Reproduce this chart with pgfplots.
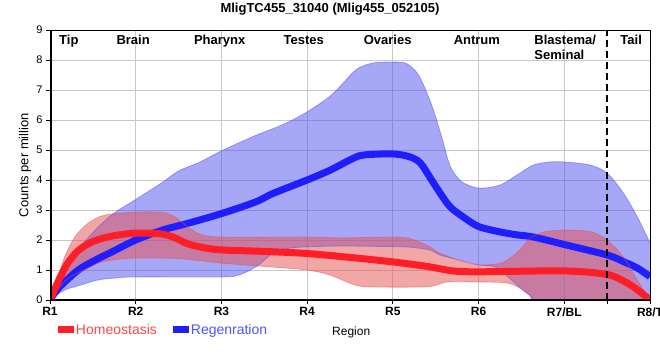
\documentclass[border=0pt]{standalone}
\usepackage{fontspec}
\setmainfont{Liberation Sans}
\usepackage{pgfplots}
\pgfplotsset{compat=1.18}
\usepgfplotslibrary{fillbetween}
\definecolor{bandblue}{RGB}{80,80,240}
\definecolor{bandred}{RGB}{230,80,80}
\definecolor{lineblue}{RGB}{30,30,255}
\definecolor{linered}{RGB}{255,30,40}
\definecolor{txtred}{RGB}{255,70,70}
\definecolor{txtblue}{RGB}{80,80,255}
\definecolor{gridgray}{RGB}{200,200,200}
\begin{document}
\begin{tikzpicture}
\begin{axis}[
 at={(0,0)}, anchor=south west,
 scale only axis, width=600pt, height=270pt,
 xmin=0, xmax=7, ymin=0, ymax=9,
 xtick={0,...,7}, xticklabels={R1,R2,R3,R4,R5,R6,R7/BL,R8/T},
 ytick={0,...,9},
 extra x ticks={6.5}, extra x tick labels={}, extra x tick style={grid=none},
 grid=major, grid style={gridgray, line width=0.9pt},
 tick align=outside, xtick pos=left, ytick pos=left,
 major tick length=4pt, tick style={black, line width=1pt},
 axis line style={black, line width=0.8pt},
 /pgf/number format/assume math mode=true,
 yticklabel style={font=\fontsize{11}{13}\selectfont},
 xticklabel style={font=\bfseries\fontsize{12}{14}\selectfont},
 ylabel={Counts per million},
 ylabel style={at={(axis description cs:-0.0417,0.5)}, anchor=center, font=\fontsize{13}{15}\selectfont},
 xlabel={Region},
 xlabel style={at={(axis description cs:0.502,-0.119)}, anchor=center, font=\fontsize{12}{14}\selectfont},
 legend style={at={(axis description cs:0.008,-0.111)}, anchor=west, draw=none, fill=none, inner sep=0pt,
   font=\fontsize{14}{16}\selectfont, /tikz/every even column/.append style={column sep=11pt}},
 legend columns=2,
 legend image code/.code={\path (0pt,0pt) -- (12pt,0pt); \draw[#1, line cap=butt, overlay] (0pt,0pt) -- (16pt,0pt);},
]
% Regeneration band
\addplot[name path=bu, smooth, draw=bandblue, draw opacity=0.5, line width=0.8pt, forget plot] coordinates {
(0,0) (0.1,0.6) (0.21,1.1) (0.36,1.78) (0.56,2.43) (0.75,2.9) (1,3.35) (1.3,3.9) (1.5,4.3) (1.75,4.6) (2,4.97) (2.37,5.45) (2.72,5.85) (3,6.27) (3.27,6.8) (3.42,7.23) (3.58,7.7) (3.77,7.9) (4,7.93) (4.16,7.88) (4.3,7.5) (4.43,6.67) (4.51,6.0) (4.59,5.23) (4.67,4.45) (4.8,3.95) (5,3.73) (5.25,3.83) (5.45,4.17) (5.64,4.5) (5.83,4.6) (6,4.6) (6.3,4.5) (6.5,4.23) (6.69,3.56) (6.85,2.78) (7,1.9)};
\addplot[name path=bl, smooth, draw=bandblue, draw opacity=0.5, line width=0.8pt, forget plot] coordinates {
(0,0) (0.17,0.33) (0.36,0.5) (0.56,0.67) (0.75,0.73) (1,0.77) (2,0.77) (2.2,0.83) (2.4,1.1) (2.6,1.55) (2.8,1.73) (3,1.77) (3.4,1.8) (4,1.78) (4.2,1.76) (4.43,1.67) (4.55,1.5) (4.82,1.3) (5,1.17) (5.2,1.1) (5.35,0.75) (5.45,0.5) (5.6,0.15) (5.7,0) (6.5,0) (7,0)};
\addplot[fill=bandblue, fill opacity=0.5, draw=none, forget plot] fill between[of=bu and bl];

% Regeneration mean
\addplot[smooth, lineblue, line width=7pt, forget plot] coordinates {
(0,0) (0.1,0.4) (0.33,1.0) (0.53,1.33) (0.72,1.6) (1,2.0) (1.31,2.33) (1.6,2.55) (2,2.88) (2.4,3.27) (2.6,3.55) (3,4.0) (3.27,4.33) (3.5,4.67) (3.65,4.83) (4,4.87) (4.2,4.77) (4.32,4.57) (4.43,4.1) (4.55,3.57) (4.67,3.1) (4.82,2.77) (5,2.45) (5.25,2.27) (5.45,2.17) (5.64,2.1) (6,1.85) (6.5,1.5) (6.69,1.28) (6.85,1.07) (7,0.78)};

% Homeostasis band
\addplot[name path=ru, smooth, draw=bandred, draw opacity=0.5, line width=0.8pt, forget plot] coordinates {
(0,0) (0.1,0.77) (0.17,1.43) (0.29,2.1) (0.44,2.55) (0.64,2.83) (1,2.93) (1.31,2.92) (1.46,2.77) (1.6,2.45) (1.75,2.2) (2,2.1) (3,2.1) (3.4,2.07) (4,2.1) (4.2,2.05) (4.43,1.78) (4.55,1.56) (4.82,1.28) (5,1.17) (5.25,1.22) (5.37,1.4) (5.48,1.67) (5.6,2.05) (5.76,2.27) (6,2.33) (6.3,2.28) (6.5,2.0) (6.69,1.43) (6.85,0.67) (7,0)};
\addplot[name path=rl, smooth, draw=bandred, draw opacity=0.5, line width=0.8pt, forget plot] coordinates {
(0,0) (0.12,0.45) (0.21,0.72) (0.36,0.95) (0.56,1.22) (0.72,1.33) (1,1.4) (1.5,1.38) (2,1.23) (2.5,1.12) (3,1.0) (3.27,0.83) (3.5,0.56) (3.65,0.45) (4,0.43) (4.43,0.45) (4.63,0.6) (5,0.6) (5.3,0.58) (5.45,0.45) (5.6,0.15) (5.7,0) (6.5,0) (7,0)};
\addplot[fill=bandred, fill opacity=0.5, draw=none, forget plot] fill between[of=ru and rl];

% Homeostasis mean
\addplot[smooth, linered, line width=7pt, forget plot] coordinates {
(0,0) (0.1,0.65) (0.2,1.2) (0.33,1.65) (0.5,1.95) (0.72,2.13) (1,2.23) (1.3,2.2) (1.45,2.08) (1.6,1.88) (1.8,1.74) (2,1.67) (2.5,1.62) (3,1.55) (3.5,1.42) (4,1.27) (4.4,1.12) (4.7,0.97) (5,0.94) (6,0.97) (6.5,0.85) (6.7,0.62) (6.85,0.35) (7,0)};

% Tail boundary
\addplot[black, line width=2.5pt, dash pattern=on 7pt off 4pt, forget plot] coordinates {(6.5,0) (6.5,9)};

\addlegendimage{linered, line width=7pt}
\addlegendentry{\textcolor{txtred}{Homeostasis}}
\addlegendimage{lineblue, line width=7pt}
\addlegendentry{\textcolor{txtblue}{Regenration}}

% Thick left and bottom axis lines
\draw[black, line width=3pt] (rel axis cs:0,0) -- (rel axis cs:0,1);
\draw[black, line width=3pt] (rel axis cs:0,0) -- (rel axis cs:1,0);

% Region names
\node[anchor=base, font=\bfseries\fontsize{13}{15}\selectfont, inner sep=0pt] at (axis cs:0.22,8.53) {Tip};
\node[anchor=base, font=\bfseries\fontsize{13}{15}\selectfont, inner sep=0pt] at (axis cs:0.97,8.53) {Brain};
\node[anchor=base, font=\bfseries\fontsize{13}{15}\selectfont, inner sep=0pt] at (axis cs:1.98,8.53) {Pharynx};
\node[anchor=base, font=\bfseries\fontsize{13}{15}\selectfont, inner sep=0pt] at (axis cs:2.96,8.53) {Testes};
\node[anchor=base, font=\bfseries\fontsize{13}{15}\selectfont, inner sep=0pt] at (axis cs:3.94,8.53) {Ovaries};
\node[anchor=base, font=\bfseries\fontsize{13}{15}\selectfont, inner sep=0pt] at (axis cs:4.98,8.53) {Antrum};
\node[anchor=base west, font=\bfseries\fontsize{13}{15}\selectfont, inner sep=0pt] at (axis cs:5.65,8.53) {Blastema/};
\node[anchor=base west, font=\bfseries\fontsize{13}{15}\selectfont, inner sep=0pt] at (axis cs:5.65,8.03) {Seminal};
\node[anchor=base, font=\bfseries\fontsize{13}{15}\selectfont, inner sep=0pt] at (axis cs:6.78,8.53) {Tail};
\end{axis}
\node[anchor=base, font=\bfseries\fontsize{13}{15}\selectfont, inner sep=0pt] at (280pt,288pt) {MligTC455\_31040 (Mlig455\_052105)};
\pgfresetboundingbox
\path[use as bounding box] (-50pt,-60pt) rectangle (610pt,300pt);
\end{tikzpicture}
\end{document}
